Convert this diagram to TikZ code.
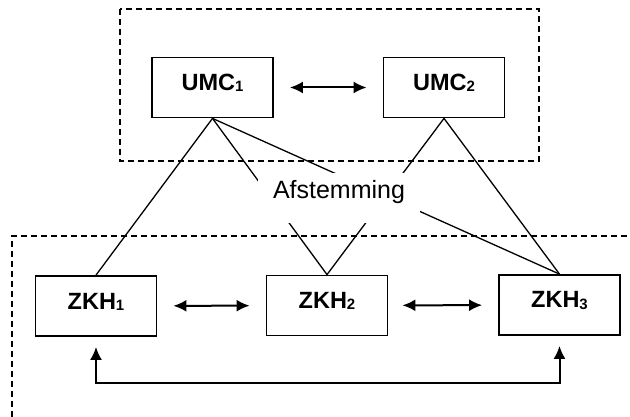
\documentclass[tikz,border=0pt]{standalone}
\usepackage{fontspec}
\setmainfont{Liberation Sans}
\usetikzlibrary{arrows.meta}
\newcommand{\subnr}[1]{\raisebox{-1.5pt}{\fontsize{15}{15}\selectfont #1}}
\tikzset{
  box/.style={draw, line width=1.8pt, minimum width=121pt, minimum height=60pt,
    inner sep=0pt, text height=18pt, text depth=12pt,
    font=\bfseries\fontsize{23.5}{28}\selectfont},
  groupline/.style={line width=1.2pt, dash pattern=on 6pt off 4pt},
  link/.style={line width=1.3pt},
  pijl/.style={line width=2pt, {Latex[length=13pt,width=12pt]}-{Latex[length=13pt,width=12pt]}}
}
\begin{document}
\begin{tikzpicture}[x=1pt, y=-1pt]
            \useasboundingbox (0, 0) rectangle (630, 417);
            % Groepen
            \draw [groupline] (120, 9) rectangle (539, 161);
            \draw [groupline] (12, 417) -- (12, 236) -- (630, 236);
            % UMC's
            \node [box] (umc1) at (212.5, 87.5) {UMC\subnr{1}};
            \node [box] (umc2) at (444, 87.5)   {UMC\subnr{2}};
            % Ziekenhuizen
            \node [box] (zkh1) at (96, 306)    {ZKH\subnr{1}};
            \node [box] (zkh2) at (327, 305.5) {ZKH\subnr{2}};
            \node [box] (zkh3) at (559.5, 305) {ZKH\subnr{3}};
            % Pijlen
            \draw [pijl, shorten <=16pt, shorten >=16pt] (umc1) -- (umc2);
            \draw [pijl, shorten <=16pt, shorten >=16pt] (zkh1) -- (zkh2);
            \draw [pijl, shorten <=14pt, shorten >=16pt] (zkh2) -- (zkh3);
            \draw [pijl, shorten <=10pt, shorten >=10pt] (zkh1.south) -- ++(0, 46) -| (zkh3.south);
            % Lijnen
            \draw [link] (umc1.south) -- (zkh1.north);
            \draw [link] (umc1.south) -- (zkh2.north);
            \draw [link] (umc1.south) -- (zkh3.north);
            \draw [link] (umc2.south) -- (zkh2.north);
            \draw [link] (umc2.south) -- (zkh3.north);
            % Afstemming
            \node [fill=white, inner sep=0pt, minimum width=162pt, minimum height=50pt,
              text height=18pt, text depth=16pt, font=\fontsize{25}{30}\selectfont]
              (afst) at (339, 198) {Afstemming};
\end{tikzpicture}
\end{document}
